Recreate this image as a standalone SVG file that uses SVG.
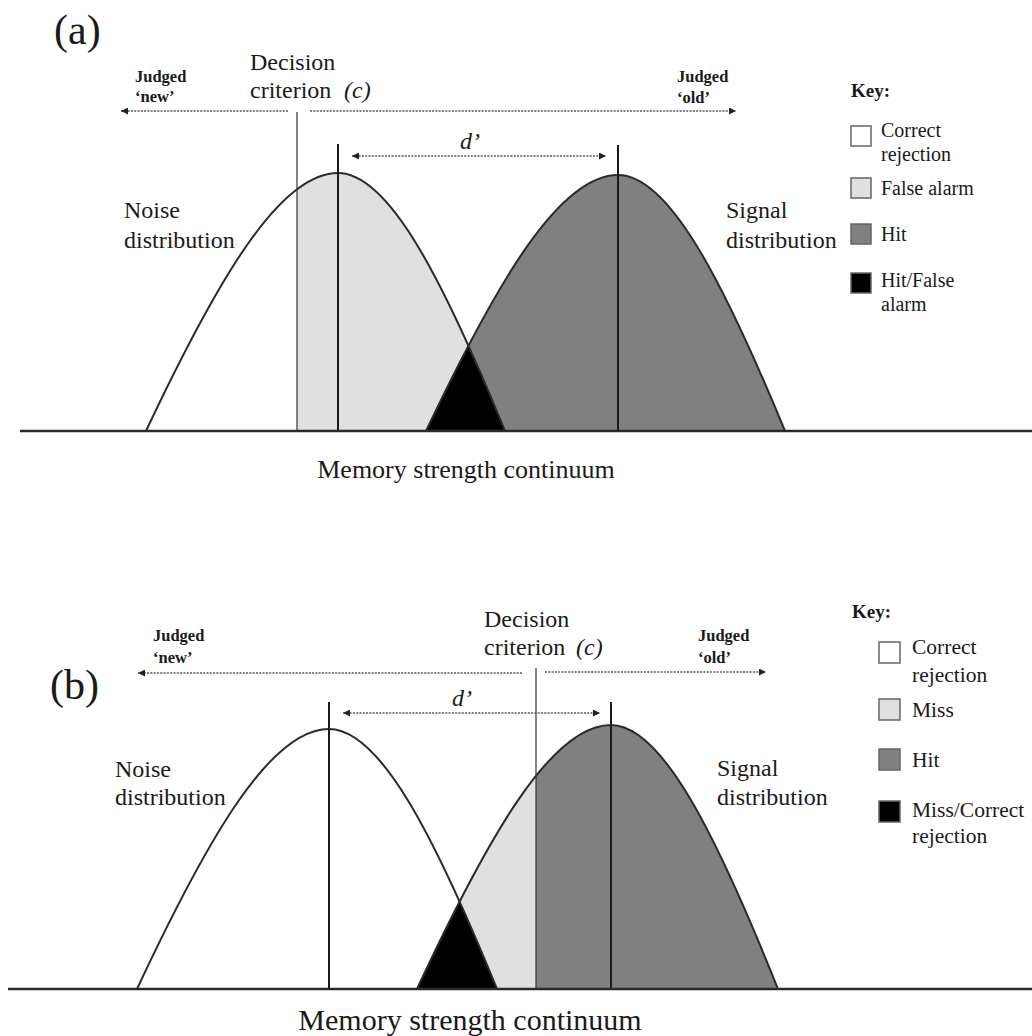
<svg xmlns="http://www.w3.org/2000/svg" width="1032" height="1036" viewBox="0 0 1032 1036">
<style>
text{font-family:"Liberation Serif","Times New Roman",serif;fill:#1a1a1a}
.big{font-size:24px}
.jd{font-size:16.5px;font-weight:bold}
.key{font-size:20px}
.keyb{font-size:21.5px}
.kh{font-size:19px;font-weight:bold}
.it{font-style:italic}
.curve{fill:none;stroke:#2a2a2a;stroke-width:2}
.mean{stroke:#1a1a1a;stroke-width:2}
.crit{stroke:#333;stroke-width:1.2}
.base{stroke:#2a2a2a;stroke-width:2.5}
.dot{stroke:#555;stroke-width:1.5;stroke-dasharray:2 1.3;fill:none}
.box{stroke:#666;stroke-width:1.5}
.lg{fill:#e0e0e0}
.dg{fill:#808080}
</style>
<defs>
<marker id="ah" viewBox="0 0 10 10" refX="10" refY="5" markerUnits="userSpaceOnUse" markerWidth="9" markerHeight="7" orient="auto-start-reverse">
<path d="M0,0 L10,5 L0,10 z" fill="#222"/>
</marker>
<path id="noiseA" d="M146,431 C219,276.2 280.4,173 338,173 C388.1,173 441.5,276.2 505,431 Z"/>
<path id="signalA" d="M426,431 C499,277.4 560.4,175 618,175 C668.1,175 721.5,277.4 785,431 Z"/>
<path id="noiseB" d="M137,989 C210,833 271.4,729 329,729 C379.4,729 433.2,833 497,989 Z"/>
<path id="signalB" d="M417,989 C490.7,830.6 552.8,725 611,725 C661.1,725 714.5,830.6 778,989 Z"/>
<clipPath id="critA"><rect x="297" y="0" width="735" height="500"/></clipPath>
<clipPath id="critB"><rect x="536" y="500" width="496" height="536"/></clipPath>
<clipPath id="clipNoiseA"><use href="#noiseA"/></clipPath>
<clipPath id="clipNoiseB"><use href="#noiseB"/></clipPath>
</defs>

<g id="panel-a">
<text x="54" y="44" style="font-size:42px">(a)</text>
<g id="a-regions">
<use href="#signalA" class="dg"/>
<use href="#noiseA" class="lg" clip-path="url(#critA)"/>
<use href="#signalA" fill="#000" clip-path="url(#clipNoiseA)"/>
</g>
<g id="a-noise">
<path class="curve" d="M146,431 C219,276.2 280.4,173 338,173 C388.1,173 441.5,276.2 505,431"/>
<line class="mean" x1="338" y1="144" x2="338" y2="431"/>
<text class="big" x="124" y="218">Noise</text>
<text class="big" x="124" y="248">distribution</text>
</g>
<g id="a-signal">
<path class="curve" d="M426,431 C499,277.4 560.4,175 618,175 C668.1,175 721.5,277.4 785,431"/>
<line class="mean" x1="618" y1="145" x2="618" y2="431"/>
<text class="big" x="726" y="218">Signal</text>
<text class="big" x="726" y="248">distribution</text>
</g>
<g id="a-criterion">
<line class="crit" x1="297" y1="112" x2="297" y2="431"/>
<text class="big" x="250" y="70">Decision</text>
<text class="big" x="250" y="98">criterion</text>
<text class="big it" x="344" y="98">(c)</text>
</g>
<line id="a-baseline" class="base" x1="20" y1="431" x2="1032" y2="431"/>
<g id="a-judged-new">
<text class="jd" x="135" y="82">Judged</text>
<text class="jd" x="135" y="102">‘new’</text>
</g>
<g id="a-judged-old">
<text class="jd" x="677" y="82">Judged</text>
<text class="jd" x="677" y="103">‘old’</text>
</g>
<text id="a-dprime" class="big it" x="460" y="149">d’</text>
<text id="a-axis" x="466" y="478" text-anchor="middle" style="font-size:26px">Memory strength continuum</text>
<g id="a-key">
<text class="kh" x="851" y="97">Key:</text>
<rect class="box" x="851" y="126" width="20" height="20" fill="#fff"/>
<text class="key" x="881" y="137">Correct</text>
<text class="key" x="881" y="161">rejection</text>
<rect class="box lg" x="851" y="178" width="20" height="20"/>
<text class="key" x="881" y="195">False alarm</text>
<rect class="box dg" x="851" y="224" width="20" height="20"/>
<text class="key" x="881" y="241">Hit</text>
<rect class="box" x="851" y="273" width="20" height="20" fill="#000"/>
<text class="key" x="881" y="287">Hit/False</text>
<text class="key" x="881" y="311">alarm</text>
</g>
</g>

<g id="panel-b">
<text x="50" y="699" style="font-size:42px">(b)</text>
<g id="b-regions">
<use href="#signalB" class="lg"/>
<use href="#signalB" class="dg" clip-path="url(#critB)"/>
<use href="#signalB" fill="#000" clip-path="url(#clipNoiseB)"/>
</g>
<g id="b-noise">
<path class="curve" d="M137,989 C210,833 271.4,729 329,729 C379.4,729 433.2,833 497,989"/>
<line class="mean" x1="329" y1="702" x2="329" y2="989"/>
<text class="big" x="115" y="777">Noise</text>
<text class="big" x="115" y="805">distribution</text>
</g>
<g id="b-signal">
<path class="curve" d="M417,989 C490.7,830.6 552.8,725 611,725 C661.1,725 714.5,830.6 778,989"/>
<line class="mean" x1="611" y1="702" x2="611" y2="989"/>
<text class="big" x="717" y="776">Signal</text>
<text class="big" x="717" y="805">distribution</text>
</g>
<g id="b-criterion">
<line class="crit" x1="536" y1="668" x2="536" y2="989"/>
<text class="big" x="484" y="627">Decision</text>
<text class="big" x="484" y="655">criterion</text>
<text class="big it" x="576" y="655">(c)</text>
</g>
<line id="b-baseline" class="base" x1="8" y1="989" x2="1032" y2="989"/>
<g id="b-judged-new">
<text class="jd" x="153" y="641">Judged</text>
<text class="jd" x="153" y="663">‘new’</text>
</g>
<g id="b-judged-old">
<text class="jd" x="698" y="641">Judged</text>
<text class="jd" x="698" y="663">‘old’</text>
</g>
<text id="b-dprime" class="big it" x="452" y="706">d’</text>
<text id="b-axis" x="470" y="1030" text-anchor="middle" style="font-size:30px">Memory strength continuum</text>
<g id="b-key">
<text class="kh" x="852" y="618">Key:</text>
<rect class="box" x="879" y="642" width="21" height="21" fill="#fff"/>
<text class="keyb" x="912" y="654">Correct</text>
<text class="keyb" x="912" y="682">rejection</text>
<rect class="box lg" x="879" y="699" width="21" height="21"/>
<text class="keyb" x="912" y="717">Miss</text>
<rect class="box dg" x="879" y="749" width="21" height="21"/>
<text class="keyb" x="912" y="767">Hit</text>
<rect class="box" x="879" y="801" width="21" height="21" fill="#000"/>
<text class="keyb" x="912" y="817">Miss/Correct</text>
<text class="keyb" x="912" y="843">rejection</text>
</g>
</g>

<g id="connectors">
<line class="dot" x1="288" y1="111" x2="121" y2="111" marker-end="url(#ah)"/>
<line class="dot" x1="310" y1="111" x2="736" y2="111" marker-end="url(#ah)"/>
<line class="dot" x1="352" y1="156" x2="606" y2="156" marker-start="url(#ah)" marker-end="url(#ah)"/>
<line class="dot" x1="522" y1="673" x2="138" y2="673" marker-end="url(#ah)"/>
<line class="dot" x1="545" y1="672" x2="766" y2="672" marker-end="url(#ah)"/>
<line class="dot" x1="343" y1="713" x2="600" y2="713" marker-start="url(#ah)" marker-end="url(#ah)"/>
</g>
</svg>
